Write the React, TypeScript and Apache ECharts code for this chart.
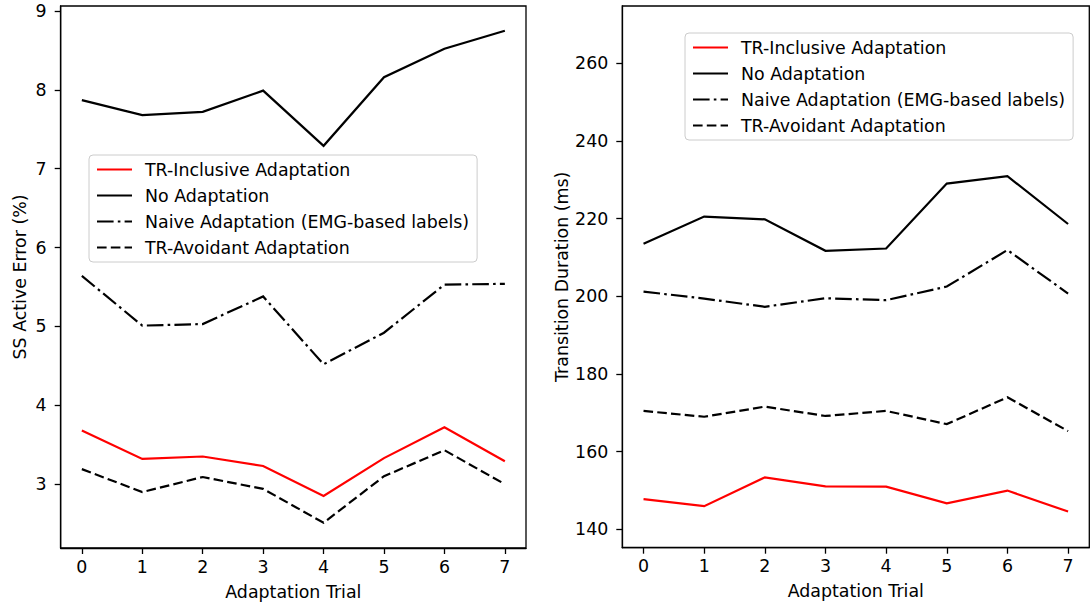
import React, { useEffect, useRef } from "react";
import * as echarts from "echarts";

const trials = [0, 1, 2, 3, 4, 5, 6, 7];
const seriesNames = [
  "TR-Inclusive Adaptation",
  "No Adaptation",
  "Naive Adaptation (EMG-based labels)",
  "TR-Avoidant Adaptation",
];

// Left panel: SS Active Error (%)
const errInclusive = [3.68, 3.32, 3.35, 3.23, 2.85, 3.33, 3.72, 3.29];
const errNone = [7.87, 7.68, 7.72, 7.99, 7.29, 8.16, 8.52, 8.75];
const errNaive = [5.64, 5.01, 5.03, 5.38, 4.52, 4.92, 5.53, 5.54];
const errAvoidant = [3.19, 2.9, 3.09, 2.94, 2.51, 3.1, 3.43, 3.0];

// Right panel: Transition Duration (ms)
const durInclusive = [147.8, 146.0, 153.4, 151.1, 151.0, 146.7, 150.0, 144.6];
const durNone = [213.5, 220.5, 219.8, 211.7, 212.3, 229.0, 230.9, 218.6];
const durNaive = [201.2, 199.4, 197.3, 199.5, 199.0, 202.5, 211.9, 200.7];
const durAvoidant = [170.5, 169.0, 171.6, 169.2, 170.5, 167.1, 174.0, 165.3];

const leftTicks = [3, 4, 5, 6, 7, 8, 9];
const rightTicks = [140, 160, 180, 200, 220, 240, 260];

const FONT = "DejaVu Sans";
const FS = 17.4;
const LW = 2.2;
const dashed = [9.6, 4.2];
const dashDot = [16.6, 4.2, 2.6, 4.2];

function pairs(vals: number[]) {
  return trials.map((t, i) => [t, vals[i]]);
}

function makeSeries(idx: number, vals: number[][]) {
  const styles = [
    { color: "#ff0000", type: "solid" as any },
    { color: "#000000", type: "solid" as any },
    { color: "#000000", type: dashDot as any },
    { color: "#000000", type: dashed as any },
  ];
  return vals.map((v, k) => ({
    type: "line",
    name: seriesNames[k],
    xAxisIndex: idx,
    yAxisIndex: idx,
    data: pairs(v),
    symbol: "none",
    showSymbol: false,
    lineStyle: { color: styles[k].color, width: LW, type: styles[k].type, cap: "butt", join: "miter" },
    itemStyle: { color: styles[k].color },
    emphasis: { disabled: true },
  }));
}

export default function App() {
  const ref = useRef<HTMLDivElement>(null);
  useEffect(() => {
    if (!ref.current) return;
    const chart = echarts.init(ref.current, undefined, { renderer: "svg" });
    const axisLabel = { color: "#000", fontFamily: FONT, fontSize: FS };
    const xAxisBase = (gi: number) => ({
      type: "value",
      gridIndex: gi,
      min: -0.35,
      max: 7.35,
      name: "Adaptation Trial",
      nameLocation: "middle",
      nameGap: 35,
      nameTextStyle: { color: "#000", fontFamily: FONT, fontSize: FS },
      splitLine: { show: false },
      axisLine: { show: true, onZero: false, lineStyle: { color: "#000", width: 1.3 } },
      axisTick: { show: true, length: 6, lineStyle: { color: "#000", width: 1.3 }, customValues: trials },
      axisLabel: { ...axisLabel, margin: 10, customValues: trials },
    });
    const legendBase = (left: number, top: number) => ({
      show: true,
      orient: "vertical",
      left,
      top,
      data: seriesNames,
      itemWidth: 35,
      itemHeight: 18,
      itemGap: 9,
      padding: [6, 8, 6, 7],
      backgroundColor: "rgba(255,255,255,0.8)",
      borderColor: "#cccccc",
      borderWidth: 1,
      borderRadius: 4,
      selectedMode: false,
      itemStyle: { opacity: 0, color: "rgba(0,0,0,0)", borderWidth: 0 },
      textStyle: { color: "#000", fontFamily: FONT, fontSize: FS, padding: [0, 0, 0, 8] },
    });
    chart.setOption({
      animation: false,
      backgroundColor: "#ffffff",
      grid: [
        { left: 60.7, top: 6, width: 465.3, height: 542, show: true, borderColor: "#000", borderWidth: 1.3, backgroundColor: "transparent" },
        { left: 622.3, top: 6, width: 467, height: 541.7, show: true, borderColor: "#000", borderWidth: 1.3, backgroundColor: "transparent" },
      ],
      xAxis: [xAxisBase(0), xAxisBase(1)],
      yAxis: [
        {
          type: "value",
          gridIndex: 0,
          min: 2.19,
          max: 9.063,
          name: "SS Active Error (%)",
          nameLocation: "middle",
          nameGap: 32,
          nameTextStyle: { color: "#000", fontFamily: FONT, fontSize: FS },
          splitLine: { show: false },
          axisLine: { show: true, onZero: false, lineStyle: { color: "#000", width: 1.3 } },
          axisTick: { show: true, length: 6, lineStyle: { color: "#000", width: 1.3 }, customValues: leftTicks },
          axisLabel: { ...axisLabel, margin: 14, customValues: leftTicks },
        },
        {
          type: "value",
          gridIndex: 1,
          min: 135.3,
          max: 274.7,
          name: "Transition Duration (ms)",
          nameLocation: "middle",
          nameGap: 52,
          nameTextStyle: { color: "#000", fontFamily: FONT, fontSize: FS },
          splitLine: { show: false },
          axisLine: { show: true, onZero: false, lineStyle: { color: "#000", width: 1.3 } },
          axisTick: { show: true, length: 6, lineStyle: { color: "#000", width: 1.3 }, customValues: rightTicks },
          axisLabel: { ...axisLabel, margin: 14, customValues: rightTicks },
        },
      ],
      legend: [legendBase(89, 155), legendBase(685, 33)],
      series: [
        ...makeSeries(0, [errInclusive, errNone, errNaive, errAvoidant]),
        ...makeSeries(1, [durInclusive, durNone, durNaive, durAvoidant]),
      ],
    });
    return () => chart.dispose();
  }, []);
  return (
    <div
      ref={ref}
      style={{ position: "absolute", left: 0, top: 0, width: 1091, height: 605 }}
    />
  );
}
